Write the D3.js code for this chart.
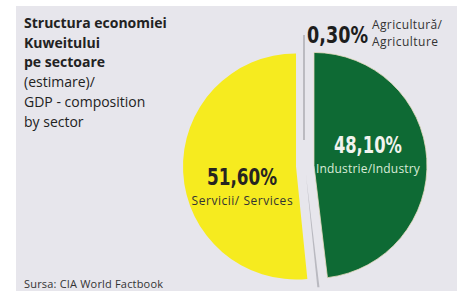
<!DOCTYPE html>
<html>
<head>
<meta charset="utf-8">
<script src="https://cdn.jsdelivr.net/npm/d3@7"></script>
<style>
  body { margin: 0; background: #fff; }
  svg { display: block; }
  .pct { font-family: "Liberation Sans Narrow", "DejaVu Sans Condensed", sans-serif; font-weight: bold; }
</style>
</head>
<body>
<script>
const width = 458, height = 291

// data
const sectors = ['Industrie/Industry', 'Agricultură/Agriculture', 'Servicii/ Services']
const shares = [48.1, 0.3, 51.6]
const shareLabels = ['48,10%', '0,30%', '51,60%']
const colors = ['#0e6a34', '#b9b9c0', '#f6eb1f']
const titleLines = ['Structura economiei', 'Kuweitului', 'pe sectoare', '(estimare)/', 'GDP - composition', 'by sector']
const source = 'Sursa: CIA World Factbook'

const svg = d3.select('body').append('svg')
    .attr('width', width)
    .attr('height', height)

// grey panel
svg.append('rect')
    .attr('x', 16).attr('y', 6)
    .attr('width', width - 17).attr('height', height - 6)
    .attr('fill', '#e7e6ec')

// title block
svg.append('g').selectAll('text')
    .data(titleLines)
    .enter()
    .append('text')
    .attr('x', 24)
    .attr('y', (d, i) => 28 + i * 19.7)
    .attr('font-family', 'Open Sans, sans-serif')
    .attr('font-size', 14)
    .attr('font-weight', (d, i) => i < 3 ? 'bold' : 'normal')
    .attr('fill', '#222')
    .text(d => d)

svg.append('text')
    .attr('x', 24).attr('y', 288)
    .attr('font-family', 'Open Sans, sans-serif')
    .attr('font-size', 11)
    .attr('textLength', 139)
    .attr('fill', '#333')
    .text(source)

// pie
const cx = 305, cy = 166, r = 113, explode = 9
const pie = d3.pie().sort(null).value(d => d)
const arc = d3.arc().innerRadius(0).outerRadius(r)
const arcs = pie(shares)

const g = svg.append('g').attr('transform', `translate(${cx},${cy})`)

function shift(d) {
    const a = (d.startAngle + d.endAngle) / 2
    return [Math.sin(a) * explode, -Math.cos(a) * explode]
}

g.selectAll('path')
    .data(arcs)
    .enter()
    .append('path')
    .attr('d', arc)
    .attr('transform', d => `translate(${shift(d)})`)
    .attr('fill', (d, i) => colors[i])
    .attr('stroke', (d, i) => i == 0 ? '#e9dcc0' : 'none')
    .attr('stroke-width', 0.8)

// labels for the two big slices
const labelArc = d3.arc().innerRadius(54).outerRadius(54)
const big = arcs.filter((d, i) => i != 1)
big.forEach(d => {
    const i = d.index
    const [sx, sy] = shift(d)
    const [lx, ly] = labelArc.centroid(d)
    const dark = i == 2
    const dy = dark ? 16 : -9
    g.append('text')
        .attr('class', 'pct')
        .attr('x', lx + sx).attr('y', ly + sy + dy)
        .attr('text-anchor', 'middle')
        .attr('font-size', 23)
        .attr('textLength', dark ? 70 : 68)
        .attr('lengthAdjust', 'spacingAndGlyphs')
        .attr('fill', dark ? '#262421' : '#f1f3ee')
        .text(shareLabels[i])
    g.append('text')
        .attr('x', lx + sx).attr('y', ly + sy + dy + 19.5)
        .attr('text-anchor', 'middle')
        .attr('font-family', 'Open Sans, sans-serif')
        .attr('font-size', 12)
        .attr('textLength', dark ? 101 : 104)
        .attr('fill', dark ? '#333' : '#d9ead8')
        .text(sectors[i])
})

// leader line and label for agriculture
const agriParts = sectors[1].split('/')
svg.append('line')
    .attr('x1', cx - 1).attr('x2', cx - 1)
    .attr('y1', 35).attr('y2', 140)
    .attr('stroke', '#8f8f95')
    .attr('stroke-width', 1)

svg.append('text')
    .attr('class', 'pct')
    .attr('x', 307).attr('y', 43)
    .attr('font-size', 23)
    .attr('textLength', 61)
    .attr('lengthAdjust', 'spacingAndGlyphs')
    .attr('fill', '#1d1d1d')
    .text(shareLabels[1])

svg.append('text')
    .attr('x', 372).attr('y', 29)
    .attr('font-family', 'Open Sans, sans-serif')
    .attr('font-size', 12)
    .attr('textLength', 70)
    .attr('fill', '#333')
    .text(agriParts[0] + '/')

svg.append('text')
    .attr('x', 372).attr('y', 46)
    .attr('font-family', 'Open Sans, sans-serif')
    .attr('font-size', 12)
    .attr('textLength', 66)
    .attr('fill', '#333')
    .text(agriParts[1])
</script>
</body>
</html>
